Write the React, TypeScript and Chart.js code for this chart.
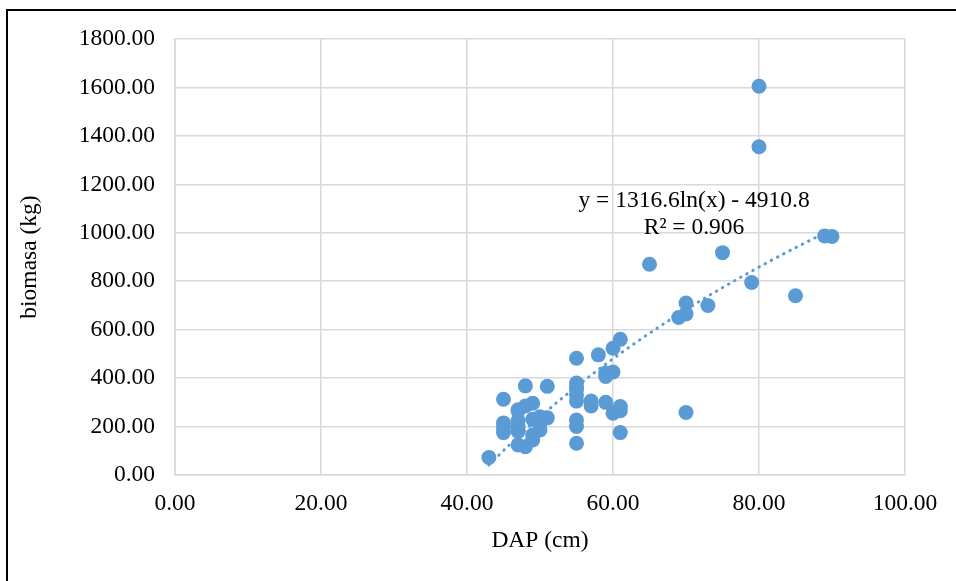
import React, { useEffect, useRef } from "react";
import { Chart, registerables } from "chart.js";

Chart.register(...registerables);

// DAP (cm)
const dap: number[] = [
  43, 45, 45, 45, 45, 47, 47, 48, 49, 48, 51, 47, 47, 47, 47, 48, 49, 50, 49, 50, 51, 50, 49,
  55, 55, 55, 55, 55, 55, 55, 55, 55, 57, 57, 58, 59, 59, 59, 60, 60, 61, 60, 61, 61, 61,
  65, 69, 70, 70, 70, 73, 75, 79, 80, 80, 85, 89, 90,
];
// biomasa (kg)
const biomasa: number[] = [
  72, 313, 215, 195, 175, 269, 265, 285, 296, 368, 366, 225, 200, 180, 124, 117, 145, 186, 165, 240, 236, 215, 230,
  482, 380, 355, 330, 305, 227, 200, 131, 360, 305, 285, 496, 300, 407, 421, 523, 425, 560, 255, 283, 265, 175,
  870, 650, 665, 710, 258, 700, 918, 795, 1605, 1355, 740, 987, 985,
];

const xTicks: number[] = [0, 20, 40, 60, 80, 100];
const yTicks: number[] = [0, 200, 400, 600, 800, 1000, 1200, 1400, 1600, 1800];

// Trendline from the chart's own equation
const trendA = 1316.6;
const trendB = -4910.8;
const trendFrom = 43;
const trendTo = 90;
const trendText = ["y = 1316.6ln(x) - 4910.8", "R² = 0.906"];

const FONT = "'Liberation Serif', 'Times New Roman', serif";
const FS = 23.5;
const BLUE = "#5b9bd5";

export default function App() {
  const ref = useRef<HTMLCanvasElement | null>(null);

  useEffect(() => {
    if (!ref.current) return;
    const points = dap.map((x, i) => ({ x, y: biomasa[i] }));
    const trend: { x: number; y: number }[] = [];
    const steps = 200;
    for (let i = 0; i <= steps; i++) {
      const x = trendFrom + ((trendTo - trendFrom) * i) / steps;
      trend.push({ x, y: trendA * Math.log(x) + trendB });
    }

    const textPlugin = {
      id: "trendText",
      afterDatasetsDraw(chart: any) {
        const { ctx, scales } = chart;
        const cx = scales.x.getPixelForValue(71.1);
        ctx.save();
        ctx.font = `${FS}px ${FONT}`;
        ctx.fillStyle = "#000";
        ctx.textAlign = "center";
        ctx.textBaseline = "middle";
        ctx.fillText(trendText[0], cx, scales.y.getPixelForValue(1133));
        ctx.fillText(trendText[1], cx, scales.y.getPixelForValue(1020));
        ctx.restore();
      },
    };

    const chart = new Chart(ref.current, {
      type: "scatter",
      data: {
        datasets: [
          {
            label: "biomasa",
            data: points,
            backgroundColor: BLUE,
            borderColor: BLUE,
            borderWidth: 0,
            pointRadius: 7.5,
            pointHoverRadius: 7.5,
            order: 2,
          },
          {
            label: "trend",
            type: "line",
            data: trend,
            borderColor: BLUE,
            borderWidth: 3,
            borderDash: [0.5, 6.5],
            borderCapStyle: "round",
            pointRadius: 0,
            fill: false,
            tension: 0,
            order: 1,
          } as any,
        ],
      },
      options: {
        responsive: false,
        animation: false,
        layout: { padding: { left: 10, right: 51, top: 39, bottom: 10 } },
        plugins: { legend: { display: false }, tooltip: { enabled: false } },
        scales: {
          x: {
            type: "linear",
            min: 0,
            max: 100,
            afterBuildTicks: (s: any) => {
              s.ticks = xTicks.map((v) => ({ value: v }));
            },
            afterFit: (s: any) => {
              s.height = 96;
            },
            ticks: {
              padding: 15,
              color: "#000",
              font: { family: FONT, size: FS },
              callback: (v: any) => Number(v).toFixed(2),
            },
            grid: { color: "#d9d9d9", lineWidth: 1.5, drawTicks: false },
            border: { color: "#d9d9d9", width: 1.5 },
            title: {
              display: true,
              text: "DAP (cm)",
              color: "#000",
              font: { family: FONT, size: FS },
              padding: { top: 0, bottom: 16 },
            },
          },
          y: {
            type: "linear",
            min: 0,
            max: 1800,
            afterBuildTicks: (s: any) => {
              s.ticks = yTicks.map((v) => ({ value: v }));
            },
            afterFit: (s: any) => {
              s.width = 165;
            },
            ticks: {
              padding: 20,
              color: "#000",
              font: { family: FONT, size: FS },
              callback: (v: any) => Number(v).toFixed(2),
            },
            grid: { color: "#d9d9d9", lineWidth: 1.5, drawTicks: false },
            border: { color: "#d9d9d9", width: 1.5 },
            title: {
              display: true,
              text: "biomasa (kg)",
              color: "#000",
              font: { family: FONT, size: FS },
              padding: { top: 6, bottom: 0 },
            },
          },
        },
      },
      plugins: [textPlugin],
    });
    return () => chart.destroy();
  }, []);

  return (
    <div style={{ position: "fixed", left: 0, top: 0, width: 956, height: 581, background: "#fff", overflow: "hidden" }}>
      <div
        style={{
          position: "absolute",
          left: 6,
          top: 9,
          width: 1000,
          height: 650,
          border: "2px solid #000",
        }}
      />
      <canvas ref={ref} width={956} height={581} style={{ position: "absolute", left: 0, top: 0 }} />
    </div>
  );
}
